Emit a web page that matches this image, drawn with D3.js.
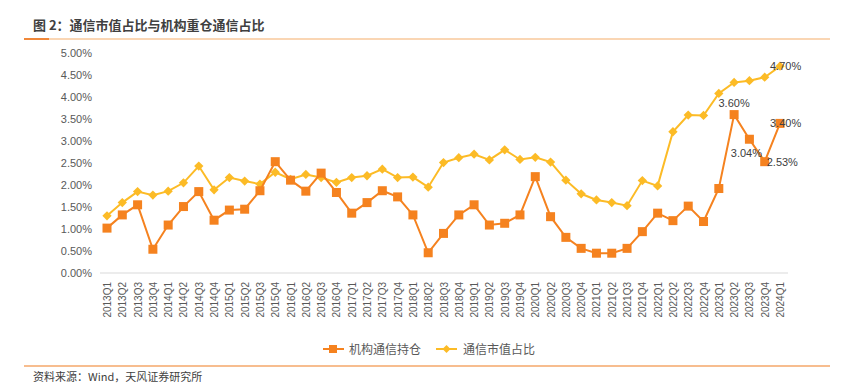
<!DOCTYPE html>
<html>
<head>
<meta charset="utf-8">
<title>通信市值占比与机构重仓通信占比</title>
<script src="https://d3js.org/d3.v7.min.js"></script>
<style>
  body { margin: 0; background: #fff; }
  svg text { font-family: "Noto Sans CJK SC", "Liberation Sans", sans-serif; }
</style>
</head>
<body>
<div id="chart"></div>
<script>
// 季度
const quarters = [];
for (let y = 2013; y <= 2024; y++) {
  for (let q = 1; q <= 4; q++) {
    if (y === 2024 && q > 1) break;
    quarters.push(y + "Q" + q);
  }
}

// 机构通信持仓 (%)
const holdings = [1.02, 1.32, 1.55, 0.54, 1.09, 1.51, 1.85, 1.20, 1.43, 1.45, 1.87, 2.53,
  2.11, 1.86, 2.27, 1.83, 1.36, 1.60, 1.87, 1.73, 1.32, 0.46, 0.90, 1.32,
  1.55, 1.09, 1.13, 1.32, 2.19, 1.28, 0.81, 0.56, 0.45, 0.45, 0.56, 0.94,
  1.36, 1.19, 1.52, 1.17, 1.92, 3.60, 3.04, 2.53, 3.40];

// 通信市值占比 (%)
const marketShare = [1.30, 1.60, 1.85, 1.77, 1.86, 2.05, 2.43, 1.89, 2.17, 2.09, 2.02, 2.29,
  2.13, 2.24, 2.17, 2.06, 2.17, 2.21, 2.36, 2.17, 2.18, 1.95, 2.51, 2.62,
  2.70, 2.57, 2.80, 2.58, 2.63, 2.52, 2.11, 1.80, 1.66, 1.60, 1.53, 2.10,
  1.98, 3.21, 3.59, 3.58, 4.08, 4.33, 4.37, 4.45, 4.70];

const yTicks = [0, 0.5, 1, 1.5, 2, 2.5, 3, 3.5, 4, 4.5, 5];

const W = 843, H = 385;
const svg = d3.select("#chart").append("svg")
  .attr("width", W).attr("height", H);

// 标题
svg.append("text")
  .attr("x", 33).attr("y", 30)
  .attr("font-size", 13).attr("font-weight", "bold")
  .attr("fill", "#404040")
  .text("图 2：通信市值占比与机构重仓通信占比");
svg.append("line").attr("x1", 24).attr("x2", 830).attr("y1", 39).attr("y2", 39)
  .attr("stroke", "#f9c89b").attr("stroke-width", 1.5);
svg.append("line").attr("x1", 24).attr("x2", 49).attr("y1", 39).attr("y2", 39)
  .attr("stroke", "#f0883a").attr("stroke-width", 2);

const x = d3.scalePoint().domain(quarters).range([107, 780]);
const y = d3.scaleLinear().domain([0, 5]).range([273, 53]);

// y 轴
svg.append("g")
  .attr("transform", "translate(92,0)")
  .call(d3.axisLeft(y).tickValues(yTicks).tickSize(0).tickPadding(0)
    .tickFormat(d => d.toFixed(2) + "%"))
  .call(g => g.select(".domain").remove())
  .call(g => g.selectAll("text").attr("font-size", 11).attr("fill", "#595959")
    .style("font-family", "Liberation Sans, sans-serif"));

// x 轴
svg.append("line").attr("x1", 100).attr("x2", 788).attr("y1", 273).attr("y2", 273)
  .attr("stroke", "#d9d9d9");
svg.append("g")
  .attr("transform", "translate(0,273)")
  .call(d3.axisBottom(x).tickSize(0).tickPadding(0))
  .call(g => g.select(".domain").remove())
  .call(g => g.selectAll("text")
    .attr("transform", "rotate(-90)")
    .attr("text-anchor", "end")
    .attr("x", -9).attr("y", 0).attr("dy", "0.35em")
    .attr("font-size", 10).attr("fill", "#595959")
    .style("font-family", "Liberation Sans, sans-serif"));

const orange = "#f5821f", yellow = "#fcbb26";
const line = d3.line().x((d, i) => x(quarters[i])).y(d => y(d));

// 通信市值占比
svg.append("path").datum(marketShare)
  .attr("d", line).attr("fill", "none")
  .attr("stroke", yellow).attr("stroke-width", 2);
svg.selectAll(".dia").data(marketShare).join("path")
  .attr("class", "dia")
  .attr("d", d3.symbol(d3.symbolDiamond2, 55))
  .attr("transform", (d, i) => `translate(${x(quarters[i])},${y(d)})`)
  .attr("fill", yellow);

// 机构通信持仓
svg.append("path").datum(holdings)
  .attr("d", line).attr("fill", "none")
  .attr("stroke", orange).attr("stroke-width", 2);
svg.selectAll(".sq").data(holdings).join("rect")
  .attr("class", "sq")
  .attr("x", (d, i) => x(quarters[i]) - 4.5)
  .attr("y", d => y(d) - 4.5)
  .attr("width", 9).attr("height", 9)
  .attr("fill", orange);

// 数据标签
const labels = [
  { s: holdings, i: 41, dx: 0, dy: -8, anchor: "middle" },
  { s: holdings, i: 42, dx: -3, dy: 18, anchor: "middle" },
  { s: holdings, i: 43, dx: 2, dy: 4, anchor: "start" },
  { s: holdings, i: 44, dx: -10, dy: 4, anchor: "start" },
  { s: marketShare, i: 44, dx: -10, dy: 4, anchor: "start" }
];
svg.selectAll(".lbl").data(labels).join("text")
  .attr("class", "lbl")
  .attr("x", d => x(quarters[d.i]) + d.dx)
  .attr("y", d => y(d.s[d.i]) + d.dy)
  .attr("text-anchor", d => d.anchor)
  .attr("font-size", 11).attr("fill", "#404040")
  .style("font-family", "Liberation Sans, sans-serif")
  .text(d => d.s[d.i].toFixed(2) + "%");

// 图例
const lg = svg.append("g").attr("transform", "translate(0,349)");
lg.append("line").attr("x1", 323).attr("x2", 344).attr("stroke", orange).attr("stroke-width", 2);
lg.append("rect").attr("x", 329).attr("y", -4).attr("width", 8).attr("height", 8).attr("fill", orange);
lg.append("text").attr("x", 349).attr("y", 4.5).attr("font-size", 12).attr("fill", "#595959").text("机构通信持仓");
lg.append("line").attr("x1", 436).attr("x2", 457).attr("stroke", yellow).attr("stroke-width", 2);
lg.append("path").attr("d", d3.symbol(d3.symbolDiamond2, 40))
  .attr("transform", "translate(446.5,0)").attr("fill", yellow);
lg.append("text").attr("x", 463).attr("y", 4.5).attr("font-size", 12).attr("fill", "#595959").text("通信市值占比");

// 底线与来源
svg.append("line").attr("x1", 24).attr("x2", 830).attr("y1", 366).attr("y2", 366)
  .attr("stroke", "#f4a76a").attr("stroke-width", 1.5);
svg.append("text").attr("x", 33).attr("y", 381)
  .attr("font-size", 11).attr("fill", "#404040")
  .text("资料来源：Wind，天风证券研究所");
</script>
</body>
</html>
